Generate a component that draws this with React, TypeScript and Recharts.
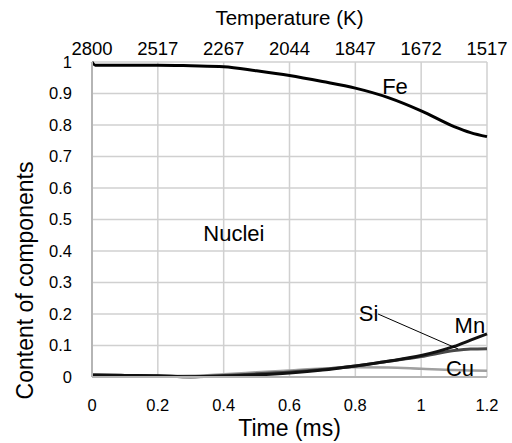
import React from 'react';
import { LineChart, Line, XAxis, YAxis, CartesianGrid, ReferenceLine, ReferenceDot } from 'recharts';

const time = [0, 0.01, 0.1, 0.2, 0.3, 0.4, 0.5, 0.6, 0.7, 0.8, 0.9, 1.0, 1.1, 1.15, 1.2];
const fe = [1.0, 0.99, 0.99, 0.99, 0.988, 0.985, 0.972, 0.957, 0.938, 0.917, 0.887, 0.845, 0.795, 0.776, 0.763];
const mn = [0.006, 0.006, 0.005, 0.004, 0.001, 0.003, 0.007, 0.013, 0.022, 0.035, 0.05, 0.068, 0.097, 0.117, 0.137];
const si = [0.006, 0.006, 0.005, 0.003, 0.001, 0.005, 0.01, 0.016, 0.024, 0.035, 0.05, 0.065, 0.084, 0.089, 0.09];
const cu = [0.005, 0.005, 0.004, 0.003, 0.004, 0.009, 0.015, 0.021, 0.027, 0.031, 0.03, 0.026, 0.022, 0.021, 0.02];

const timeTicks = [0, 0.2, 0.4, 0.6, 0.8, 1, 1.2];
const tempLabels = ['2800', '2517', '2267', '2044', '1847', '1672', '1517'];
const yTicks = [0, 0.1, 0.2, 0.3, 0.4, 0.5, 0.6, 0.7, 0.8, 0.9, 1];

const data = time.map((t, i) => ({ t, fe: fe[i], mn: mn[i], si: si[i], cu: cu[i] }));

const FONT = '"Liberation Sans", Arial, sans-serif';

const tempFormatter = (v: number) => {
  const i = timeTicks.findIndex((x) => Math.abs(x - v) < 1e-9);
  return i >= 0 ? tempLabels[i] : '';
};

const yFormatter = (v: number) => (v === 0 ? '0' : v === 1 ? '1' : String(Math.round(v * 10) / 10));

const annLabel = (value: string) => ({ value, position: 'center' as const, fontSize: 22, fill: '#000', fontFamily: FONT });

export default function App() {
  return (
    <div style={{ position: 'absolute', left: 0, top: 0, background: '#fff' }}>
      <LineChart width={512} height={443} data={data} margin={{ top: 0, right: 25, bottom: 0, left: 0 }}>
        <CartesianGrid xAxisId="bottom" stroke="#d0d0d0" strokeWidth={1.5} />
        <XAxis
          xAxisId="bottom"
          dataKey="t"
          type="number"
          domain={[0, 1.2]}
          ticks={timeTicks}
          height={66}
          tickSize={0}
          tickMargin={22}
          tickLine={false}
          axisLine={{ stroke: '#b5b5b5', strokeWidth: 2 }}
          tick={{ fontSize: 16.5, fill: '#000', fontFamily: FONT }}
          tickFormatter={(v: number) => String(v)}
          label={{
            content: ({ viewBox }: any) => (
              <text x={viewBox.x + viewBox.width / 2} y={436} textAnchor="middle" fontSize={23} fontFamily={FONT} fill="#000">
                Time (ms)
              </text>
            ),
          }}
        />
        <XAxis
          xAxisId="top"
          orientation="top"
          dataKey="t"
          type="number"
          domain={[0, 1.2]}
          ticks={timeTicks}
          height={62}
          tickSize={0}
          tickMargin={7}
          tickLine={false}
          axisLine={false}
          tick={{ fontSize: 18.5, fill: '#000', fontFamily: FONT }}
          tickFormatter={tempFormatter}
          label={{
            content: ({ viewBox }: any) => (
              <text x={viewBox.x + viewBox.width / 2} y={25} textAnchor="middle" fontSize={20.5} fontFamily={FONT} fill="#000">
                Temperature (K)
              </text>
            ),
          }}
        />
        <YAxis
          type="number"
          domain={[0, 1]}
          ticks={yTicks}
          width={92}
          tickSize={0}
          tickMargin={20}
          tickLine={false}
          axisLine={{ stroke: '#b5b5b5', strokeWidth: 2 }}
          tick={{ fontSize: 16.5, fill: '#000', fontFamily: FONT }}
          tickFormatter={yFormatter}
          label={{
            content: ({ viewBox }: any) => {
              const cy = viewBox.y + viewBox.height / 2 + 61;
              return (
                <text
                  x={25}
                  y={cy}
                  dy="0.35em"
                  transform={`rotate(-90, 25, ${cy})`}
                  textAnchor="middle"
                  fontSize={23}
                  fontFamily={FONT}
                  fill="#000"
                >
                  Content of components
                </text>
              );
            },
          }}
        />
        <Line xAxisId="bottom" type="monotone" dataKey="cu" stroke="#a0a0a0" strokeWidth={2.5} dot={false} isAnimationActive={false} />
        <Line xAxisId="bottom" type="monotone" dataKey="si" stroke="#484848" strokeWidth={3} dot={false} isAnimationActive={false} />
        <Line xAxisId="bottom" type="monotone" dataKey="mn" stroke="#111" strokeWidth={3} dot={false} isAnimationActive={false} />
        <Line xAxisId="bottom" type="monotone" dataKey="fe" stroke="#000" strokeWidth={3} dot={false} isAnimationActive={false} />
        <ReferenceLine
          xAxisId="bottom"
          segment={[{ x: 0.869, y: 0.2 }, { x: 1.112, y: 0.089 }]}
          stroke="#000"
          strokeWidth={1}
        />
        <ReferenceDot xAxisId="bottom" x={0.9205} y={0.924} r={1} fill="none" stroke="none" label={annLabel('Fe')} />
        <ReferenceDot xAxisId="bottom" x={0.431} y={0.457} r={1} fill="none" stroke="none" label={annLabel('Nuclei')} />
        <ReferenceDot xAxisId="bottom" x={0.84} y={0.202} r={1} fill="none" stroke="none" label={annLabel('Si')} />
        <ReferenceDot xAxisId="bottom" x={1.148} y={0.165} r={1} fill="none" stroke="none" label={annLabel('Mn')} />
        <ReferenceDot xAxisId="bottom" x={1.118} y={0.027} r={1} fill="none" stroke="none" label={annLabel('Cu')} />
      </LineChart>
    </div>
  );
}
